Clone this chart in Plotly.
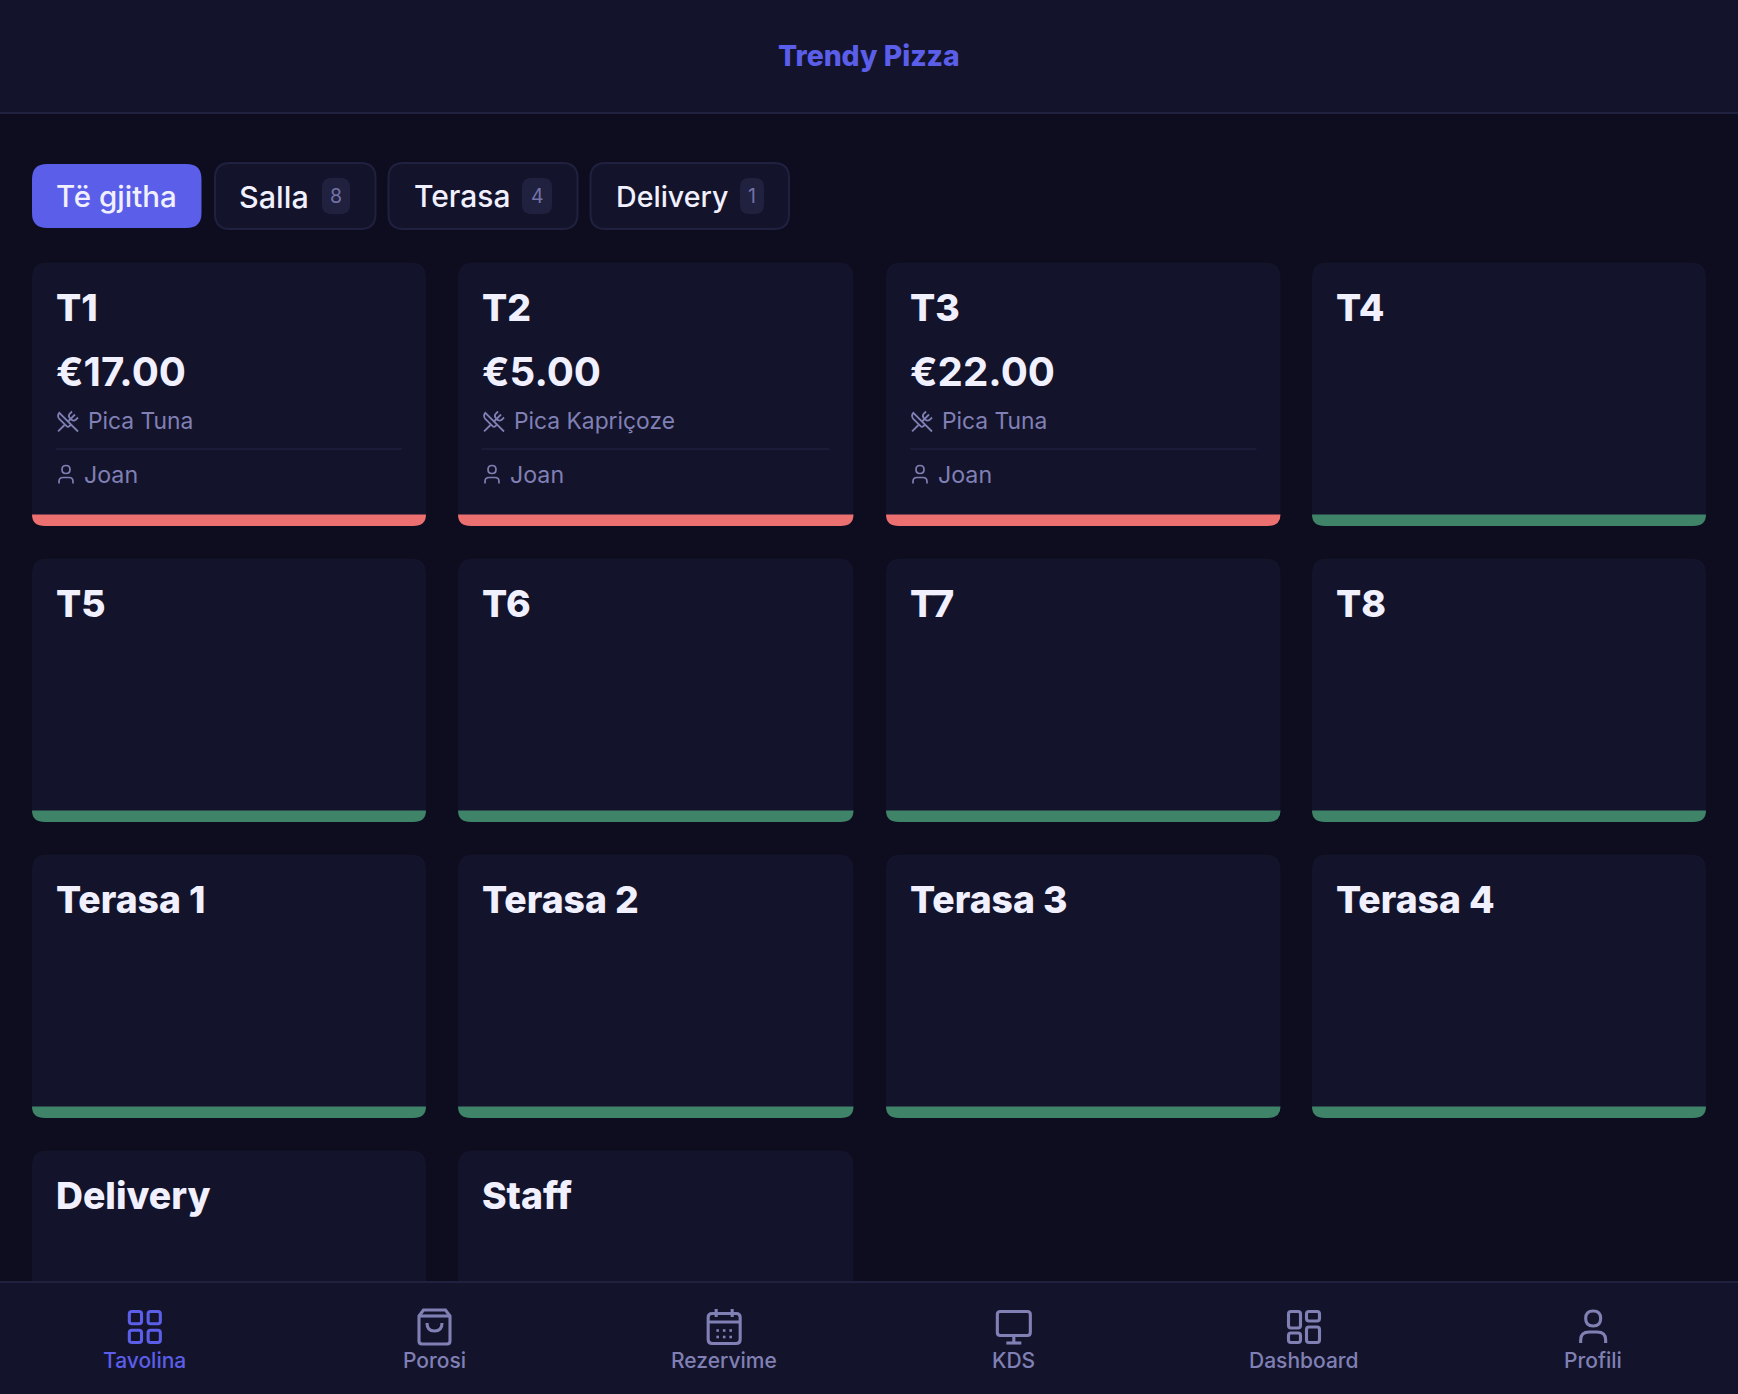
import plotly.graph_objects as go

# page data
app_title = "Trendy Pizza"
tab_names = ["Të gjitha", "Salla", "Terasa", "Delivery"]
tab_counts = [None, 8, 4, 1]
table_names = ["T1", "T2", "T3", "T4", "T5", "T6", "T7", "T8",
               "Terasa 1", "Terasa 2", "Terasa 3", "Terasa 4", "Delivery", "Staff"]
table_totals = ["€17.00", "€5.00", "€22.00"]
table_items = ["Pica Tuna", "Pica Kapriçoze", "Pica Tuna"]
table_waiters = ["Joan", "Joan", "Joan"]
nav_labels = ["Tavolina", "Porosi", "Rezervime", "KDS", "Dashboard", "Profili"]

BG = "#0d0d1f"
PANEL = "#13132b"
BORDER = "#20203f"
ACCENT = "#5b5ee8"
TEXT = "#f0f0ff"
MUTED = "#8080b4"
RED = "#ec7070"
GREEN = "#3f8468"
FONT = "Inter"

W, H = 1738, 1394
shapes = []
notes = []


def rr(x0, y0, x1, y1, r=14):
    return (f"M{x0+r},{y0} L{x1-r},{y0} Q{x1},{y0} {x1},{y0+r} L{x1},{y1-r} "
            f"Q{x1},{y1} {x1-r},{y1} L{x0+r},{y1} Q{x0},{y1} {x0},{y1-r} "
            f"L{x0},{y0+r} Q{x0},{y0} {x0+r},{y0} Z")


def box(path, fill=None, line=None, width=0):
    shapes.append(dict(type="path", path=path, fillcolor=fill or "rgba(0,0,0,0)",
                       line=dict(color=line or "rgba(0,0,0,0)", width=width), layer="below"))


def label(x, y, text, size, color, weight=400, anchor="left"):
    # annotations sit a little right of x when left anchored
    if anchor == "left":
        x -= 2.5
    notes.append(dict(x=x, y=y, text=text, xref="x", yref="y", showarrow=False,
                      xanchor=anchor, yanchor="middle",
                      font=dict(family=FONT, size=size, color=color, weight=weight)))


# header and tabs
box(f"M0,0 L{W},0 L{W},113 L0,113 Z", PANEL)
box(f"M0,113 L{W},113", line=BORDER, width=2)
label(868.5, 56, app_title, 28.3, ACCENT, 800, "center")

tab_left = [32, 215, 388.5, 590.5]
tab_right = [201.5, 375.5, 577.5, 789]
tab_text = [56.5, 239, 414, 616]
tab_size = [29.5, 30.5, 30, 28.6]
badge_left = [None, 322, 522, 740]
badge_right = [None, 350, 552, 764]
for i, name in enumerate(tab_names):
    if i == 0:
        box(rr(tab_left[i], 164, tab_right[i], 228, 15), ACCENT)
    else:
        box(rr(tab_left[i], 163, tab_right[i], 229, 15), PANEL, BORDER, 2)
        box(rr(badge_left[i], 178, badge_right[i], 214, 9), BORDER)
        label((badge_left[i] + badge_right[i]) / 2, 195.5, str(tab_counts[i]), 19.5, "#7373a8", 400, "center")
    label(tab_text[i], 196, name, tab_size[i], TEXT, 500)


def cutlery(cx, cy):
    # crossed fork and knife, drawn on a 24 unit box
    c = "#7f7fb4"
    s = 1.0

    def p(u, v):
        return f"{cx+(u-12)*s:.2f},{cy+(v-12)*s:.2f}"

    box(f"M{p(16,2)} L{p(13.7,4.3)} Q{p(12,6.4)} {p(13.7,8.5)} L{p(15.5,10.3)} "
        f"Q{p(17.6,12)} {p(19.7,10.3)} L{p(22,8)}", line=c, width=1.8)
    box(f"M{p(19,5)} L{p(12,12)}", line=c, width=1.8)
    box(f"M{p(2.1,21.8)} L{p(8.5,15.5)}", line=c, width=1.8)
    box(f"M{p(15,15)} L{p(3.3,3.3)} Q{p(0.8,6.3)} {p(3.3,9.3)} L{p(10.6,16.6)} "
        f"Q{p(12,17.9)} {p(13.4,16.6)} L{p(15,15)} L{p(22,22)}", line=c, width=1.8)


def person_small(cx, cy):
    c = "#7f7fb4"
    box(rr(cx - 4, cy - 9, cx + 4, cy - 1, 4), line=c, width=1.7)
    box(f"M{cx-7},{cy+9} L{cx-7},{cy+7} Q{cx-7},{cy+3} {cx-3},{cy+3} L{cx+3},{cy+3} "
        f"Q{cx+7},{cy+3} {cx+7},{cy+7} L{cx+7},{cy+9}", line=c, width=1.7)


# table cards
col_left = [32, 458, 886, 1312]
col_right = [426, 853.5, 1280.5, 1706]
card_h = 263.5
row_top = [262.5, 558.5, 854.5, 1150.5]
for i, name in enumerate(table_names):
    x0 = col_left[i % 4]
    x1 = col_right[i % 4]
    y0 = row_top[i // 4]
    y1 = y0 + card_h
    busy = i < len(table_totals)
    box(rr(x0, y0, x1, y1, 15), PANEL)
    box(f"M{x0},{y1-11.5} L{x1},{y1-11.5} Q{x1},{y1} {x1-13},{y1} L{x0+13},{y1} Q{x0},{y1} {x0},{y1-11.5} Z",
        RED if busy else GREEN)
    label(x0 + 24.5, y0 + 45, name, 37.3, TEXT, 800)
    if busy:
        label(x0 + 24.5, y0 + 109, table_totals[i], 40.3, TEXT, 700)
        cutlery(x0 + 36, y0 + 159)
        label(x0 + 56, y0 + 157.5, table_items[i], 22.8, MUTED)
        box(f"M{x0+24},{y0+186.5} L{x1-24},{y0+186.5}", line=BORDER, width=1.5)
        person_small(x0 + 34, y0 + 212)
        label(x0 + 52, y0 + 212.5, table_waiters[i], 23.2, MUTED)

# bottom nav
box(f"M0,1282 L{W},1282 L{W},{H} L0,{H} Z", PANEL)
box(f"M0,1282 L{W},1282", line=BORDER, width=2)
nav_centers = [W * (2 * k + 1) / 12 for k in range(6)]
nav_y = 1327
sw = 3.1


def nav_grid(x, c):
    for a, b in [(-15.5, -3.3), (3.3, 15.5)]:
        for d, e in [(-15.5, -3.3), (3.3, 15.5)]:
            box(rr(x + a, nav_y + d, x + b, nav_y + e, 2.5), line=c, width=sw)


def nav_bag(x, c):
    y = nav_y
    box(f"M{x-15.5},{y-11} L{x-11},{y-17} L{x+11},{y-17} L{x+15.5},{y-11} L{x+15.5},{y+14} "
        f"Q{x+15.5},{y+17} {x+12.5},{y+17} L{x-12.5},{y+17} Q{x-15.5},{y+17} {x-15.5},{y+14} Z", line=c, width=sw)
    box(f"M{x-15.5},{y-11} L{x+15.5},{y-11}", line=c, width=sw)
    box(f"M{x-7.5},{y-4} Q{x-7.5},{y+4} {x},{y+4} Q{x+7.5},{y+4} {x+7.5},{y-4}", line=c, width=sw)


def nav_calendar(x, c):
    y = nav_y
    box(rr(x - 16, y - 13.5, x + 16, y + 16.5, 4), line=c, width=sw)
    box(f"M{x-16},{y-5} L{x+16},{y-5}", line=c, width=sw)
    for a in (-8, 8):
        box(f"M{x+a},{y-18} L{x+a},{y-10}", line=c, width=sw)
    for a in (-6.5, 0, 6.5):
        for b in (3.5, 10):
            box(f"M{x+a-1.3},{y+b-1.3} L{x+a+1.3},{y+b-1.3} L{x+a+1.3},{y+b+1.3} L{x+a-1.3},{y+b+1.3} Z", c)


def nav_monitor(x, c):
    y = nav_y
    box(rr(x - 16.5, y - 15.5, x + 16.5, y + 8.5, 3), line=c, width=sw)
    box(f"M{x},{y+8.5} L{x},{y+16}", line=c, width=sw)
    box(f"M{x-7.5},{y+16} L{x+7.5},{y+16}", line=c, width=sw)


def nav_dashboard(x, c):
    y = nav_y
    box(rr(x - 15, y - 15.5, x - 3, y + 1, 2.5), line=c, width=sw)
    box(rr(x + 3, y - 15.5, x + 16, y - 6, 2.5), line=c, width=sw)
    box(rr(x - 15, y + 6, x - 3, y + 15.5, 2.5), line=c, width=sw)
    box(rr(x + 3, y, x + 16, y + 15.5, 2.5), line=c, width=sw)


def nav_person(x, c):
    y = nav_y
    box(rr(x - 7.5, y - 16, x + 7.5, y - 1, 7.5), line=c, width=sw)
    box(f"M{x-12.5},{y+16} L{x-12.5},{y+13} Q{x-12.5},{y+5} {x-4},{y+5} L{x+4},{y+5} "
        f"Q{x+12.5},{y+5} {x+12.5},{y+13} L{x+12.5},{y+16}", line=c, width=sw)


nav_icons = [nav_grid, nav_bag, nav_calendar, nav_monitor, nav_dashboard, nav_person]
for k, text in enumerate(nav_labels):
    color = ACCENT if k == 0 else MUTED
    nav_icons[k](nav_centers[k], color)
    label(nav_centers[k], 1360.5, text, 21, color, 500, "center")

fig = go.Figure()
fig.update_layout(
    width=W, height=H, margin=dict(l=0, r=0, t=0, b=0, pad=0),
    paper_bgcolor=BG, plot_bgcolor=BG, showlegend=False,
    xaxis=dict(range=[0, W], visible=False, fixedrange=True),
    yaxis=dict(range=[H, 0], visible=False, fixedrange=True),
    shapes=shapes, annotations=notes,
)
fig.write_html("out.html", config={"displayModeBar": False},
               post_script="document.body.style.margin='0';document.body.style.overflow='hidden';")
